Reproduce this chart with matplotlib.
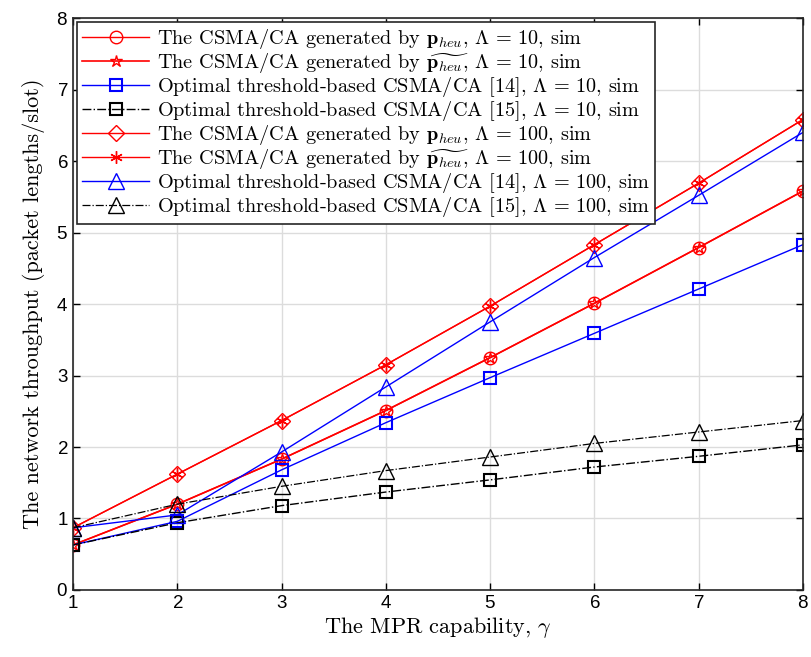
import matplotlib
matplotlib.use("Agg")
import matplotlib.pyplot as plt
import numpy as np

plt.rcParams['mathtext.fontset'] = 'cm'
plt.rcParams['font.family'] = 'serif'
plt.rcParams['font.serif'] = ['cmr10', 'DejaVu Serif']
plt.rcParams['axes.formatter.use_mathtext'] = True

x = [1, 2, 3, 4, 5, 6, 7, 8]
heu_10 = [0.63, 1.20, 1.83, 2.51, 3.25, 4.01, 4.79, 5.58]
heu_tilde_10 = [0.63, 1.20, 1.83, 2.51, 3.25, 4.01, 4.79, 5.58]
opt14_10 = [0.63, 0.96, 1.68, 2.34, 2.97, 3.59, 4.21, 4.83]
opt15_10 = [0.63, 0.94, 1.18, 1.37, 1.54, 1.72, 1.87, 2.03]
heu_100 = [0.87, 1.62, 2.37, 3.15, 3.97, 4.83, 5.69, 6.58]
heu_tilde_100 = [0.87, 1.62, 2.37, 3.15, 3.97, 4.83, 5.69, 6.58]
opt14_100 = [0.87, 1.05, 1.93, 2.84, 3.75, 4.65, 5.52, 6.40]
opt15_100 = [0.87, 1.20, 1.45, 1.67, 1.86, 2.05, 2.21, 2.37]

labels = [
    r"The CSMA/CA generated by $\mathbf{p}_{heu}$, $\Lambda\,=\,10$, sim",
    r"The CSMA/CA generated by $\widetilde{\mathbf{p}_{heu}}$, $\Lambda\,=\,10$, sim",
    r"Optimal threshold-based CSMA/CA [14], $\Lambda\,=\,10$, sim",
    r"Optimal threshold-based CSMA/CA [15], $\Lambda\,=\,10$, sim",
    r"The CSMA/CA generated by $\mathbf{p}_{heu}$, $\Lambda\,=\,100$, sim",
    r"The CSMA/CA generated by $\widetilde{\mathbf{p}_{heu}}$, $\Lambda\,=\,100$, sim",
    r"Optimal threshold-based CSMA/CA [14], $\Lambda\,=\,100$, sim",
    r"Optimal threshold-based CSMA/CA [15], $\Lambda\,=\,100$, sim",
]

fig = plt.figure(figsize=(8.11, 6.57), dpi=100)
ax = fig.add_axes([0.09, 0.102, 0.900, 0.8705])

ms = 9
ax.plot(x, heu_10, color='red', lw=1, marker='o', mfc='none', ms=ms, label=labels[0])
ax.plot(x, heu_tilde_10, color='red', lw=1.2, marker='*', mfc='none', ms=ms, label=labels[1])
ax.plot(x, opt14_10, color='blue', lw=1, marker='s', mfc='none', ms=8, mew=1.5, label=labels[2])
ax.plot(x, opt15_10, color='black', lw=1, ls='-.', marker='s', mfc='none', ms=8, mew=1.5, label=labels[3])
ax.plot(x, heu_100, color='red', lw=1, marker='D', mfc='none', ms=8, label=labels[4])
ax.plot(x, heu_tilde_100, color='red', lw=1, marker=(6, 2, 0), mfc='none', ms=ms, label=labels[5])
ax.plot(x, opt14_100, color='blue', lw=1, marker='^', mfc='none', ms=11, label=labels[6])
ax.plot(x, opt15_100, color='black', lw=0.9, ls='-.', marker='^', mfc='none', ms=11, label=labels[7])

ax.set_xlim(1, 8)
ax.set_ylim(0, 8)
ax.set_xticks(x)
ax.set_yticks(range(0, 9))
ax.grid(True, color='#dcdcdc', lw=1)
ax.set_axisbelow(True)
ax.tick_params(direction='in', top=True, right=True, length=5, labelsize=13.5, width=1)
for lab in ax.get_xticklabels() + ax.get_yticklabels():
    lab.set_family('Liberation Sans')
for s in ax.spines.values():
    s.set_linewidth(1.2)
    s.set_color('#262626')

ax.set_xlabel(r"The MPR capability, $\gamma$", fontsize=16, labelpad=2)
ax.set_ylabel("The network throughput (packet lengths/slot)", fontsize=16, labelpad=8)

leg = ax.legend(loc='upper left', fontsize=14.6, frameon=True, fancybox=False,
                edgecolor='#262626', framealpha=1, handlelength=3.3,
                labelspacing=0.0, borderaxespad=0.2, handletextpad=0.4,
                borderpad=0.25)
leg.get_frame().set_linewidth(1.2)

fig.savefig("out.png", dpi=100)
